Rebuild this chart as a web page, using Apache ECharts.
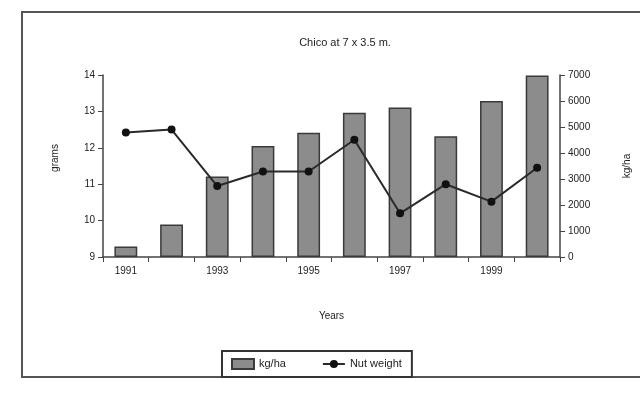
<!DOCTYPE html>
<html><head><meta charset="utf-8">
<script src="https://cdn.jsdelivr.net/npm/echarts@6/dist/echarts.min.js"></script>
<style>html,body{margin:0;padding:0;background:#fff}#c{width:640px;height:406px}</style>
</head><body><div id="c"></div>
<script>
var years = ['1991','1992','1993','1994','1995','1996','1997','1998','1999','2000'];
var yieldKgHa = [400, 1250, 3100, 4270, 4780, 5550, 5750, 4640, 6000, 6980];
var nutWeight = [12.42, 12.5, 10.95, 11.35, 11.35, 12.22, 10.2, 11.0, 10.52, 11.45];
var leftTicks = [9, 14, 1];
var rightTicks = [0, 7000, 1000];

var FONT = 'Liberation Sans, Arial, sans-serif';
var chart = echarts.init(document.getElementById('c'), null, {renderer: 'canvas'});
chart.setOption({
  animation: false,
  backgroundColor: '#fff',
  title: {
    text: 'Chico at 7 x 3.5 m.',
    left: 340, top: 32, textAlign: 'center',
    textStyle: {fontFamily: FONT, fontSize: 11, fontWeight: 'normal', color: '#222'}
  },
  graphic: [{
    type: 'rect', shape: {x: 22, y: 12, width: 630, height: 365},
    style: {fill: 'none', stroke: '#555', lineWidth: 2}, silent: true
  }, {
    type: 'text', x: 55, y: 158, rotation: Math.PI / 2, silent: true,
    style: {text: 'grams', fontFamily: FONT, fontSize: 10, fill: '#222',
      align: 'center', verticalAlign: 'middle'}
  }],
  legend: {
    left: 222, top: 351,
    padding: [7, 10, 7, 9],
    itemGap: 36,
    itemWidth: 22, itemHeight: 10,
    borderColor: '#333', borderWidth: 2,
    textStyle: {fontFamily: FONT, fontSize: 11, color: '#222'},
    data: [
      {name: 'kg/ha', icon: 'rect'},
      {name: 'Nut weight'}
    ]
  },
  grid: {left: 103, right: 75, top: 75, bottom: 149},
  xAxis: {
    type: 'category', data: years,
    name: 'Years', nameLocation: 'middle', nameGap: 54, nameMoveOverlap: false,
    nameTextStyle: {fontFamily: FONT, fontSize: 10, color: '#222'},
    axisLine: {lineStyle: {color: '#444', width: 1.5}},
    axisTick: {show: true, interval: 0, length: 5, lineStyle: {color: '#444'}},
    axisLabel: {interval: 1, fontFamily: FONT, fontSize: 10, color: '#222', margin: 9}
  },
  yAxis: [{
    type: 'value', min: leftTicks[0], max: leftTicks[1], interval: leftTicks[2],
    axisLine: {show: true, lineStyle: {color: '#444', width: 1.5}},
    axisTick: {show: true, length: 5, lineStyle: {color: '#444'}},
    axisLabel: {fontFamily: FONT, fontSize: 10, color: '#222', margin: 8},
    splitLine: {show: false}
  }, {
    type: 'value', position: 'right', min: rightTicks[0], max: rightTicks[1], interval: rightTicks[2],
    name: 'kg/ha', nameLocation: 'middle', nameGap: 62, nameRotate: 90, nameMoveOverlap: false,
    nameTextStyle: {fontFamily: FONT, fontSize: 10, color: '#222'},
    axisLine: {show: true, lineStyle: {color: '#444', width: 1.5}},
    axisTick: {show: true, length: 5, lineStyle: {color: '#444'}},
    axisLabel: {fontFamily: FONT, fontSize: 10, color: '#222', margin: 8,
      formatter: function (v) { return String(v); }},
    splitLine: {show: false}
  }],
  series: [{
    name: 'kg/ha', type: 'bar', yAxisIndex: 1, data: yieldKgHa,
    barWidth: '50%',
    itemStyle: {color: '#8c8c8c', borderColor: '#3a3a3a', borderWidth: 1.5}
  }, {
    name: 'Nut weight', type: 'line', yAxisIndex: 0, data: nutWeight,
    symbol: 'circle', symbolSize: 8,
    lineStyle: {color: '#2a2a2a', width: 2},
    itemStyle: {color: '#111'}
  }]
});
</script></body></html>
